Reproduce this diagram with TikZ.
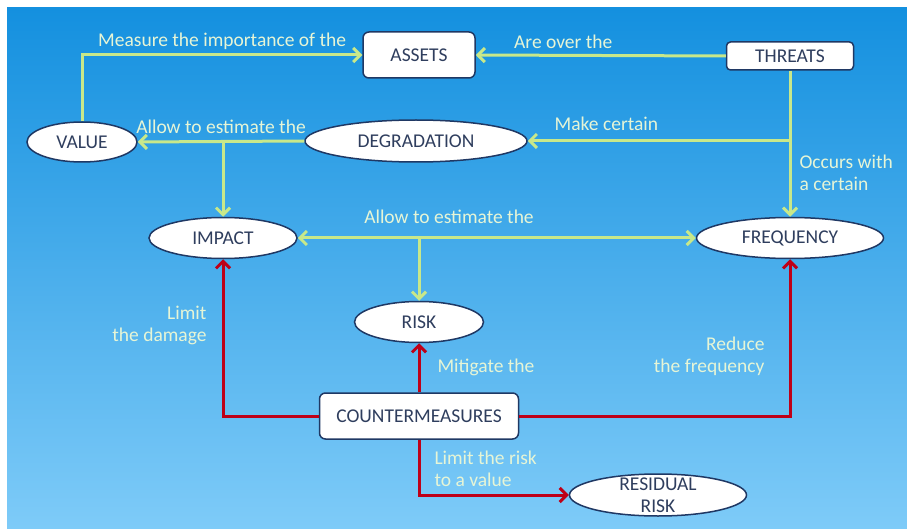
\documentclass[tikz,border=0pt]{standalone}
\usepackage{fontspec}
\setmainfont{Carlito}
\usepackage{xcolor}
\usepackage{tikz}
\usetikzlibrary{arrows.meta}
\usetikzlibrary{shapes.geometric}
\definecolor{skytop}{RGB}{20,144,223}
\definecolor{skybottom}{RGB}{126,203,248}
\definecolor{linkgreen}{RGB}{200,232,138}
\definecolor{linkred}{RGB}{190,0,24}
\definecolor{navy}{RGB}{31,56,100}
\definecolor{nodetext}{RGB}{47,62,94}
\definecolor{labeltext}{RGB}{230,245,214}
\tikzstyle{box} = [draw=navy, line width=1.5pt, fill=white,
	rounded corners=6pt, inner sep=0pt,
	text=nodetext, font=\fontsize{19.5}{22}\selectfont]
\tikzstyle{oval} = [ellipse, draw=navy, line width=1.5pt, fill=white,
	inner sep=0pt, text=nodetext, font=\fontsize{19.5}{22}\selectfont]
\tikzstyle{garrow} = [-{Straight Barb[length=7pt, width=14pt]}, line width=3pt, linkgreen]
\tikzstyle{rarrow} = [-{Straight Barb[length=7pt, width=14pt]}, line width=3pt, linkred]
\tikzstyle{lbl} = [text=labeltext, font=\fontsize{19.5}{22}\selectfont, inner sep=3pt]

\begin{document}
\begin{tikzpicture}[x=1pt, y=-1pt]
	\fill[white] (0,0) rectangle (907,529);
	\fill[top color=skytop, bottom color=skybottom] (7,8) rectangle (907,529);
	\useasboundingbox (0,0) rectangle (907,529);
	
	\node (assets) [box, minimum width=112pt, minimum height=46pt] at (419,55) {ASSETS};
	\node (threats) [box, minimum width=127pt, minimum height=28pt, rounded corners=4pt] at (790,56) {THREATS};
	\node (value) [oval, minimum width=110pt, minimum height=40pt] at (82,142) {VALUE};
	\node (degr) [oval, minimum width=222pt, minimum height=42pt] at (416,141) {DEGRADATION};
	\node (impact) [oval, minimum width=148pt, minimum height=41pt] at (223,238) {IMPACT};
	\node (freq) [oval, minimum width=187pt, minimum height=41pt] at (790,238) {FREQUENCY};
	\node (risk) [oval, minimum width=129pt, minimum height=41pt] at (419,322) {RISK};
	\node (cm) [box, minimum width=199pt, minimum height=46pt] at (419,416) {COUNTERMEASURES};
	\node (resid) [oval, minimum width=177pt, minimum height=42pt, inner ysep=-10pt, align=center] at (658,495) {RESIDUAL\\RISK};
	
	% green links
	\draw [garrow] (value.north) |- (assets.west) node [lbl, pos=0.75, above, yshift=1pt] {Measure the importance of the};
	\draw [garrow] (threats.west) -- (assets.east) node [lbl, pos=0.65, above, yshift=2pt] {Are over the};
	\draw [garrow] (threats.south) -- (freq.north) node [lbl, pos=0.70, right, xshift=5pt, align=left] {Occurs with\\a certain};
	\draw [garrow] (threats.south |- degr.east) -- (degr.east) node [lbl, pos=0.70, above, yshift=6pt] {Make certain};
	\draw [garrow] (degr.west) -- (value.east) node [lbl, midway, above, yshift=3pt] {Allow to estimate the};
	\draw [garrow] (degr.west -| impact.north) -- (impact.north);
	\draw [{Straight Barb[length=7pt, width=14pt]}-{Straight Barb[length=7pt, width=14pt]}, line width=3pt, linkgreen] (impact.east) -- (freq.west) node [lbl, pos=0.38, above, yshift=10pt] {Allow to estimate the};
	\draw [garrow] (impact.east -| risk.north) -- (risk.north);
	
	% red links
	\draw [rarrow] (cm.west) -| (impact.south) node [lbl, pos=0.79, left, xshift=-12pt, align=right] {Limit\\the damage};
	\draw [rarrow] (cm.north) -- (risk.south) node [lbl, midway, right, xshift=14pt] {Mitigate the};
	\draw [rarrow] (cm.east) -| (freq.south) node [lbl, pos=0.69, left, xshift=-21pt, align=right] {Reduce\\the frequency};
	\draw [rarrow] (cm.south) |- (resid.west) node [lbl, pos=0.26, right, xshift=11pt, align=left] {Limit the risk\\to a value};
\end{tikzpicture}
\end{document}
